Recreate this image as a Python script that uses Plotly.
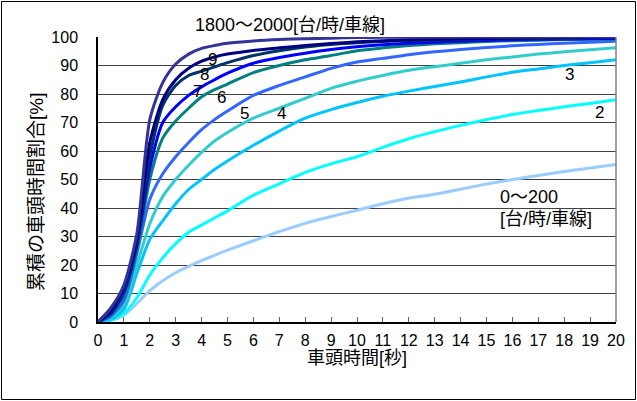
import plotly.graph_objects as go

# headway time [s]
x_sec = [0, 0.5, 1, 1.5, 2, 2.5, 3, 3.5, 4, 4.5, 5, 6, 7, 8, 9, 10, 11, 12, 13, 14, 15, 16, 17, 18, 19, 20]

# cumulative share [%] per traffic volume class
s_0_200 = [0, 0.5, 2.5, 6.5, 11, 14.5, 17.3, 19.5, 21.5, 23.4, 25.2, 28.5, 31.7, 34.6, 37, 39.2, 41.5, 43.5, 44.8, 46.6, 48.4, 50, 51.4, 52.8, 54, 55.3]
s_2 = [0, 0.8, 3, 8.5, 16.5, 22.5, 27.5, 31.5, 34, 36.5, 39, 44.5, 48.5, 52.5, 55.5, 58, 61.3, 64.3, 66.8, 69, 71, 72.8, 74.2, 75.5, 76.7, 78]
s_3 = [0, 1, 4.5, 17, 29, 35.5, 41.5, 46.5, 50, 53.5, 56.5, 62, 67, 71.5, 74.5, 77, 79.2, 81, 82.6, 84.2, 86, 87.6, 88.8, 90, 91, 92]
s_4 = [0, 1.5, 6, 20, 34.5, 44, 50, 55, 59.5, 63.5, 66.5, 71.5, 75, 78.5, 82, 84.5, 86.5, 88.3, 89.6, 90.8, 92, 93, 94, 94.8, 95.5, 96.2]
s_5 = [0, 2, 7.5, 24, 43, 52, 58, 63, 67.5, 71, 74, 79.5, 83, 86, 89, 91.2, 92.5, 93.8, 94.8, 95.6, 96.3, 96.9, 97.4, 97.8, 98.2, 98.5]
s_6 = [0, 2.5, 9, 25, 50, 64.5, 70.5, 75, 79, 81.5, 83.5, 87.5, 90, 92, 93.5, 95.2, 96.2, 97, 97.6, 98, 98.4, 98.7, 98.9, 99.1, 99.2, 99.3]
s_7 = [0, 3, 10.5, 27, 54, 70, 75.5, 79.5, 82.5, 85, 87.3, 90.8, 92.8, 94.3, 95.6, 96.6, 97.3, 97.8, 98.2, 98.5, 98.8, 99, 99.2, 99.3, 99.4, 99.5]
s_8 = [0, 3.5, 11.5, 28, 58, 76, 83, 86.5, 88, 89.5, 91, 93.5, 95.2, 96.5, 97.4, 98, 98.4, 98.7, 98.9, 99.1, 99.3, 99.4, 99.5, 99.6, 99.7, 99.8]
s_9 = [0, 4, 12.5, 29, 63, 78, 85, 89, 91.5, 93, 94, 95.3, 96.2, 97, 97.7, 98.3, 98.7, 99, 99.2, 99.4, 99.5, 99.6, 99.7, 99.8, 99.8, 99.9]
s_1800_2000 = [0, 5, 13, 31, 71, 84, 90.5, 94, 96, 97, 97.8, 98.6, 99.1, 99.4, 99.6, 99.8, 99.9, 99.9, 99.9, 100, 100, 100, 100, 100, 100, 100]

series = [
    ("0～200", s_0_200, "#99CCFF"),
    ("2", s_2, "#00FFFF"),
    ("3", s_3, "#00C4FF"),
    ("4", s_4, "#33CCCC"),
    ("5", s_5, "#3366FF"),
    ("6", s_6, "#008080"),
    ("7", s_7, "#0000FF"),
    ("8", s_8, "#003366"),
    ("9", s_9, "#000080"),
    ("1800～2000", s_1800_2000, "#333399"),
]

# label texts and positions (data coords)
label_texts = ["9", "8", "7", "6", "5", "4", "3", "2"]
label_x = [4.42, 4.1, 3.83, 4.78, 5.64, 7.09, 18.2, 19.35]
label_y = [92.1, 86.8, 80.9, 78.6, 73.1, 73.1, 86.8, 73.5]

W, H = 637, 401
ML, MR, MT, MB = 98, 21, 37, 79
PW, PH = W - ML - MR, H - MT - MB

FONT = "Liberation Sans, Noto Sans CJK JP, sans-serif"


def px2paper_x(px):
    return (px - ML) / PW


def px2paper_y(py):
    return 1 - (py - MT) / PH


fig = go.Figure()
for name, vals, col in series:
    fig.add_trace(go.Scatter(x=x_sec, y=vals, mode="lines", name=name,
                             line=dict(color=col, width=3, shape="spline", smoothing=0.7),
                             showlegend=False))

ann = []
for t, ax_, ay_ in zip(label_texts, label_x, label_y):
    ann.append(dict(x=ax_, y=ay_, text=t, showarrow=False, xref="x", yref="y",
                    font=dict(size=17, color="black", family=FONT)))
ann.append(dict(x=px2paper_x(193), y=px2paper_y(25), text="1800～2000[台/時/車線]",
                showarrow=False, xref="paper", yref="paper", xanchor="left", yanchor="middle",
                font=dict(size=18, color="black", family=FONT)))
ann.append(dict(x=15.45, y=44, text="0～200", showarrow=False,
                xref="x", yref="y", xanchor="left",
                font=dict(size=18, color="black", family=FONT)))
ann.append(dict(x=15.45, y=36.0, text="[台/時/車線]", showarrow=False,
                xref="x", yref="y", xanchor="left",
                font=dict(size=18, color="black", family=FONT)))
# axis titles
ann.append(dict(x=0.5, y=px2paper_y(358), text="車頭時間[秒]", showarrow=False,
                xref="paper", yref="paper", xanchor="center", yanchor="middle",
                font=dict(size=18, color="black", family=FONT)))
ann.append(dict(x=px2paper_x(36), y=px2paper_y(192), text="累積の車頭時間割合[%]", showarrow=False,
                xref="paper", yref="paper", xanchor="center", yanchor="middle", textangle=-90,
                font=dict(size=19, color="black", family=FONT)))

shapes = [
    dict(type="rect", xref="paper", yref="paper",
         x0=px2paper_x(1.5), x1=px2paper_x(635.5),
         y0=px2paper_y(399.5), y1=px2paper_y(1.5),
         line=dict(color="black", width=1), layer="below"),
    dict(type="line", xref="paper", yref="paper", x0=1, x1=1, y0=0, y1=1,
         line=dict(color="#808080", width=1.5)),
]

fig.update_layout(
    width=W, height=H, autosize=False,
    margin=dict(l=ML, r=MR, t=MT, b=MB, pad=0),
    paper_bgcolor="white", plot_bgcolor="white",
    font=dict(family=FONT, size=16, color="black"),
    annotations=ann, shapes=shapes,
    xaxis=dict(range=[0, 20], dtick=1, tick0=0, showgrid=False, zeroline=False,
               showline=True, linecolor="black", linewidth=1.5,
               ticks="inside", ticklen=5, tickcolor="#606060",
               ticklabelstandoff=3,
               tickfont=dict(size=16, family=FONT),
               fixedrange=True),
    yaxis=dict(range=[0, 100], dtick=10, tick0=0, showgrid=True,
               gridcolor="#404040", gridwidth=1, zeroline=False,
               showline=True, linecolor="black", linewidth=1.5,
               ticks="", ticklabelstandoff=15,
               tickfont=dict(size=16, family=FONT),
               fixedrange=True),
)

fig.write_html("out.html", config={"displayModeBar": False},
               post_script="document.body.style.margin='0';document.body.style.overflow='hidden';")
